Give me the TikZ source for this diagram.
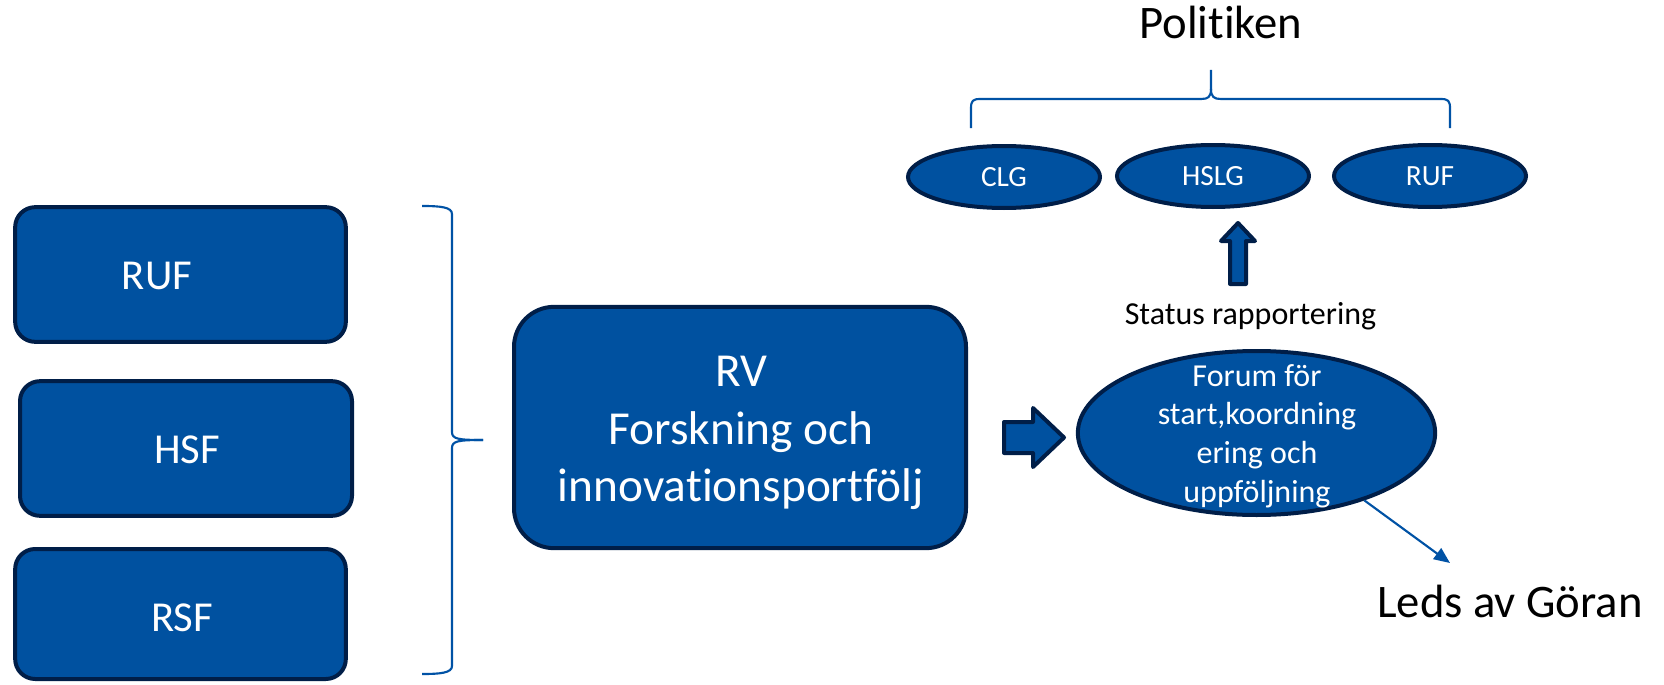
\documentclass[tikz,border=0pt]{standalone}
\usepackage{fontspec}
\setmainfont[Ligatures=CommonOff]{Carlito}
\usetikzlibrary{arrows.meta,shapes.geometric}
\definecolor{boxfill}{RGB}{0,81,160}
\definecolor{boxline}{RGB}{0,30,72}
\definecolor{bracec}{RGB}{0,82,165}
\begin{document}
\begin{tikzpicture}[x=0.75pt,y=-0.75pt,
 box/.style={draw=boxline,fill=boxfill,line width=3pt,rounded corners=15pt,inner sep=0pt},
 oval/.style={draw=boxline,fill=boxfill,line width=3pt,ellipse,inner sep=0pt},
 smalloval/.style={oval,minimum width=144pt,minimum height=46.5pt,text=white,font=\fontsize{22}{26}\selectfont},
 wtext/.style={text=white,align=center,inner sep=0pt},
 btext/.style={text=black,inner sep=0pt},
 blockarrow/.style={draw=boxline,fill=boxfill,line width=3pt,line join=round},
 bracel/.style={draw=bracec,line width=1.6pt},
]
\useasboundingbox (0,0) rectangle (1664,685);

% left boxes
\node[box,minimum width=248pt,minimum height=101pt] (rufbox) at (180.5,274.5) {};
\node[wtext,font=\fontsize{32}{38}\selectfont] (ruft) at (157,276) {RUF};
\node[box,minimum width=249pt,minimum height=101pt] (hsfbox) at (186,448.5) {};
\node[wtext,font=\fontsize{32}{38}\selectfont] (hsft) at (187,450) {HSF};
\node[box,minimum width=248pt,minimum height=97.5pt] (rsfbox) at (180.5,614) {};
\node[wtext,font=\fontsize{32}{38}\selectfont] (rsft) at (182,618) {RSF};

% left brace
\draw[bracel] (422,206) .. controls (440,206) and (452,207) .. (452,214) -- (452,432) .. controls (452,439) and (458,440) .. (483,440);
\draw[bracel] (483,440) .. controls (458,440) and (452,441) .. (452,448) -- (452,666) .. controls (452,673) and (440,674) .. (422,674);

% RV box
\node[box,rounded corners=30pt,minimum width=339pt,minimum height=181pt] (rv) at (740,427.5) {};
\node[wtext,font=\fontsize{35.5}{43}\selectfont] (rvt) at (741,433) {RV\\Forskning och\\innovationsportfölj};

% right block arrow
\draw[blockarrow] (1004,422) -- (1033,422) -- (1033,408) -- (1064,437.5) -- (1033,467) -- (1033,453) -- (1004,453) -- cycle;

% forum ellipse
\node[oval,minimum width=268pt,minimum height=123pt] (forum) at (1256.5,433) {};
\node[wtext,font=\fontsize{24}{29}\selectfont] (forumt) at (1257,436) {Forum för\\start,koordning\\ering och\\uppföljning};

% up block arrow
\draw[blockarrow] (1230,284) -- (1230,241) -- (1221,241) -- (1238,223) -- (1255,241) -- (1246,241) -- (1246,284) -- cycle;
\node[btext,font=\fontsize{24}{29}\selectfont,anchor=base] (status) at (1250.5,324) {Status rapportering};

% top ellipses
\node[smalloval] (clg) at (1004,177) {CLG};
\node[smalloval] (hslg) at (1213,176) {HSLG};
\node[smalloval] (ruftop) at (1430,176) {RUF};

% top brace
\draw[bracel] (971,128) -- (971,108) .. controls (971,101) and (973,99) .. (980,99) -- (1201,99) .. controls (1208,99) and (1211,97) .. (1211,89) -- (1211,70);
\draw[bracel] (1211,89) .. controls (1211,97) and (1214,99) .. (1221,99) -- (1441,99) .. controls (1448,99) and (1450,101) .. (1450,108) -- (1450,128);

\node[btext,font=\fontsize{35}{42}\selectfont,anchor=base] (pol) at (1221,39) {Politiken};

% leds
\node[btext,font=\fontsize{35}{42}\selectfont,anchor=base] (leds) at (1510,617) {Leds av Göran};
\coordinate (ledsend) at (1450,563);
\draw[bracel,-{Triangle[length=12pt,width=10pt]}] (forum.-32) -- (ledsend);
\end{tikzpicture}
\end{document}
